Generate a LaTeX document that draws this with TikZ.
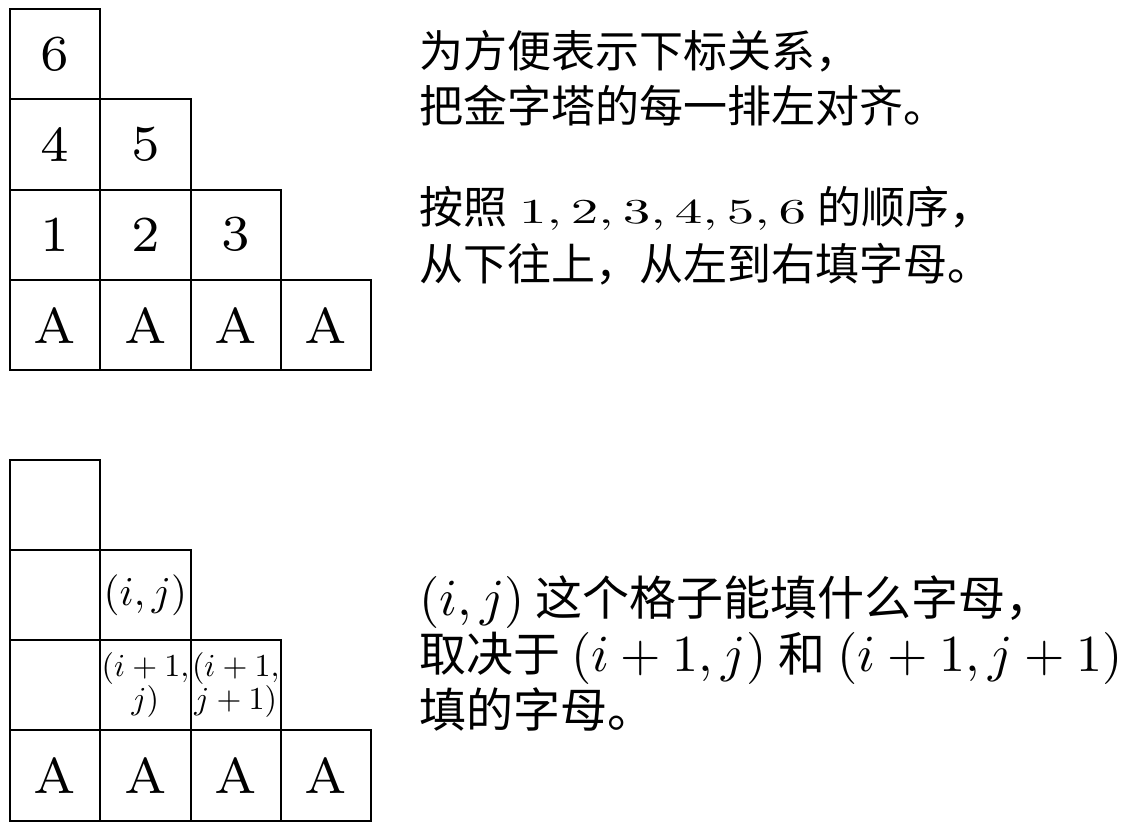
\documentclass[tikz,border=0pt]{standalone}
\usepackage{fontspec}
\usepackage{graphicx}
\newfontfamily\cjk{Noto Sans CJK SC}
\newcommand\Sz[3]{\scalebox{#1}{\fontsize{#2}{#2}\selectfont #3}}
\newcommand\Cj[2]{{\cjk\fontsize{#1}{#1}\selectfont #2}}
\newcommand\Two[2]{\scalebox{3.2}{\fontsize{10}{9.4}\selectfont\begin{tabular}{@{}c@{}}#1\\#2\end{tabular}}}
\begin{document}
\begin{tikzpicture}[x=1pt,y=-1pt,
  cell/.style={draw, line width=2pt, minimum size=90.3pt, inner sep=0pt, outer sep=0pt},
  txt/.style={anchor=base west, inner sep=0pt, outer sep=0pt}]
\useasboundingbox (0,0) rectangle (1137,834);
\fill[white] (0,0) rectangle (1137,834);
\def\cw{90.3}
% top grid
\foreach \r/\c/\t in {0/0/6, 1/0/4, 1/1/5, 2/0/1, 2/1/2, 2/2/3, 3/0/A, 3/1/A, 3/2/A, 3/3/A}
  \node[cell] (t\r\c) at ({10+(\c+0.5)*\cw},{9+(\r+0.5)*\cw}) {\Sz{7.2}{7}{\t}};
% bottom grid
\foreach \r/\c in {0/0, 1/0, 2/0}
  \node[cell] (b\r\c) at ({10+(\c+0.5)*\cw},{459.5+(\r+0.5)*\cw}) {};
\node[cell] (b11) at ({10+1.5*\cw},{459.5+1.5*\cw}) {\Sz{4.1}{10}{$(i,j)$}};
\node[cell] (b21) at ({10+1.5*\cw},{459.5+2.5*\cw}) {\Two{$(i+1,$}{$j)$}};
\node[cell] (b22) at ({10+2.5*\cw},{459.5+2.5*\cw}) {\Two{$(i+1,$}{$j+1)$}};
\foreach \c in {0,1,2,3}
  \node[cell] (b3\c) at ({10+(\c+0.5)*\cw},{459.5+3.5*\cw}) {\Sz{7.2}{7}{A}};
% top text
\node[txt] (l1) at (419,68) {\Cj{44}{为方便表示下标关系，}};
\node[txt] (l2) at (419,123) {\Cj{44}{把金字塔的每一排左对齐。}};
\node[txt] (l3) at (419,224) {\Cj{44}{按照}\hspace{12pt}\scalebox{5.5}[3.5]{\fontsize{10}{10}\selectfont$1,2,3,4,5,6$}\hspace{11pt}\Cj{44}{的顺序，}};
\node[txt] (l4) at (419,280) {\Cj{44}{从下往上，从左到右填字母。}};
% bottom text
\node[txt] (m1) at (419,615) {\Sz{5.2}{10}{$(i,j)$}\hspace{11pt}\Cj{47}{这个格子能填什么字母，}};
\node[txt] (m2) at (419,671) {\Cj{47}{取决于}\hspace{11pt}\Sz{5.2}{10}{$(i+1,j)$}\hspace{12pt}\Cj{47}{和}\hspace{12pt}\Sz{5.2}{10}{$(i+1,j+1)$}};
\node[txt] (m3) at (419,727) {\Cj{47}{填的字母。}};
\end{tikzpicture}
\end{document}
